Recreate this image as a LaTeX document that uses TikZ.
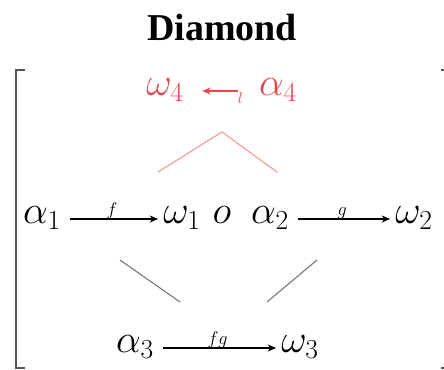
\documentclass[tikz,border=0pt]{standalone}
\usepackage{fix-cm}
\usepackage{amsmath}
\usepackage{fontspec}
\setmainfont{Liberation Serif}
\usepackage{tikz}
\usetikzlibrary{arrows.meta, positioning}
\definecolor{lossc}{HTML}{E5484A}
\definecolor{edgec}{HTML}{F29A9A}
\definecolor{linkc}{HTML}{7A7A7A}
\definecolor{brackc}{HTML}{555555}

\begin{document}
\begin{tikzpicture}[>={Stealth[length=6pt,width=5pt]},
      obj/.style={font=\fontsize{28}{32}\selectfont, inner sep=0pt, text height=0.8em, text depth=0.16em},
      arr/.style={->, thick, shorten <=6pt, shorten >=3.5pt},
      lab/.style={font=\fontsize{13}{14}\selectfont, inner sep=0pt, above, yshift=-0.5pt},
      link/.style={linkc, thick}]
    \useasboundingbox (0,0) rectangle (11.1,9.225);
    \node[font=\fontsize{27}{30}\selectfont\bfseries] (title) at (5.55,8.525) {Diamond};
    % bracket
    \draw[brackc, line width=2pt] (0.625,7.475) -- (0.4,7.475) -- (0.4,0.025) -- (0.625,0.025);
    \draw[brackc, line width=2pt] (11.03,7.475) -- (11.1,7.475);
    \draw[brackc, line width=2pt] (11.03,0.025) -- (11.1,0.025);
    % top pair
    \node[obj, text=lossc] (w4) at (4.125,6.95) {$\omega_4$};
    \node[obj, text=lossc] (a4) at (6.95,6.95) {$\alpha_4$};
    \draw[arr, lossc, shorten <=15pt, shorten >=13pt] (a4) -- node[pos=0, anchor=north east, xshift=-11pt, yshift=-1pt, font=\fontsize{11}{12}\selectfont, inner sep=0pt]{$l$} (w4);
    \draw[edgec, thick] (3.95,4.925) -- (5.55,5.925) -- (6.925,4.925);
    % middle row
    \node[obj] (a1) at (1.05,3.75) {$\alpha_1$};
    \node[obj] (w1) at (4.55,3.75) {$\omega_1$};
    \node[obj] (o) at (5.55,3.75) {$o$};
    \node[obj] (a2) at (6.75,3.75) {$\alpha_2$};
    \node[obj] (w2) at (10.35,3.75) {$\omega_2$};
    \draw[arr] (a1) -- node[lab]{$f$} (w1);
    \draw[arr] (a2) -- node[lab]{$g$} (w2);
    \draw[link] (3.0,2.725) -- (4.5,1.675);
    \draw[link] (7.925,2.725) -- (6.675,1.675);
    % bottom row
    \node[obj] (a3) at (3.375,0.525) {$\alpha_3$};
    \node[obj] (w3) at (7.5,0.525) {$\omega_3$};
    \draw[arr] (a3) -- node[lab]{$fg$} (w3);
\end{tikzpicture}
\end{document}
